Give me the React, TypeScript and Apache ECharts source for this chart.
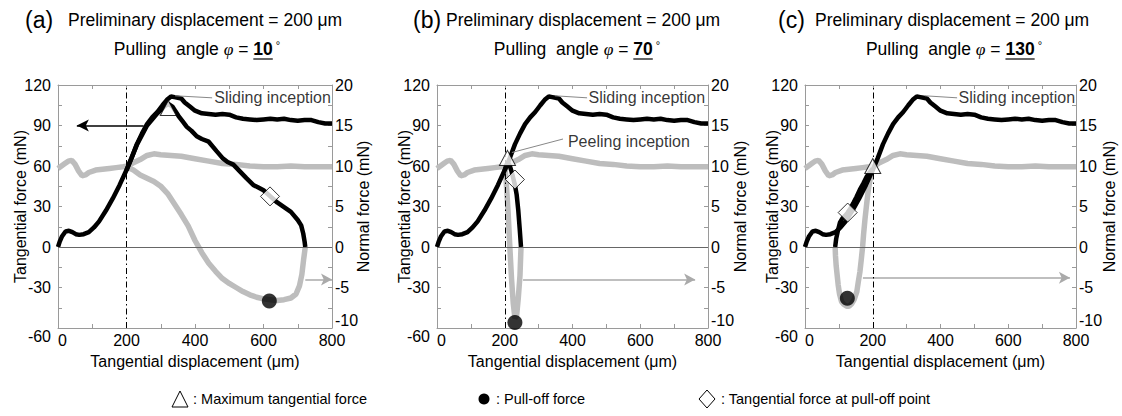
import React, { useEffect, useRef } from "react";
import * as echarts from "echarts";

// ---------- data ----------
// common sliding curve (tangential force, mN, left axis)
const slideX = [0, 5, 12, 22, 32, 42, 52, 62, 75, 90, 105, 120, 140, 160, 180, 200, 215, 230, 245, 260, 275, 290, 305, 318, 330, 340, 350, 360, 370, 385, 400, 420, 440, 460, 480, 500, 520, 540, 560, 580, 600, 620, 640, 660, 680, 700, 720, 740, 760, 780, 800];
const slideT = [0, 4, 8, 11.5, 12, 11, 9.5, 9, 9.5, 11, 14.5, 19, 27, 36, 46, 57, 66, 76, 84, 91, 96, 100, 105, 109, 111.5, 111, 110.5, 110, 107, 104, 101, 99, 98.5, 98, 98.5, 98, 96, 95, 94.5, 94, 94.5, 95, 94.5, 95, 94, 93.5, 94, 94, 92.5, 91.5, 91.5];
// common normal force (mN, right axis)
const normX = [0, 10, 20, 30, 40, 50, 60, 70, 80, 90, 110, 130, 150, 170, 190, 205, 220, 240, 260, 280, 300, 330, 360, 400, 440, 480, 520, 560, 600, 640, 680, 720, 760, 800];
const normN = [9.7, 10.0, 10.3, 10.6, 10.7, 10.2, 9.4, 8.8, 8.9, 9.2, 9.5, 9.6, 9.7, 9.8, 9.9, 10.0, 10.4, 10.8, 11.3, 11.5, 11.4, 11.3, 11.2, 10.9, 10.6, 10.3, 10.2, 10.0, 9.9, 9.9, 10.0, 9.9, 9.9, 9.9];

// (a) phi = 10
const pullAX = [200, 230, 260, 290, 310, 322, 334, 342, 352, 364, 376, 390, 405, 420, 440, 463, 480, 495, 512, 531, 550, 570, 585, 600, 620, 640, 660, 680, 700, 710, 716, 720, 722];
const pullAT = [57, 75.5, 90, 99, 104, 106, 104, 101, 97, 93, 89, 86, 82, 80, 78, 71, 66, 63, 61, 56, 51, 46, 44, 42, 37.5, 33, 29.5, 26, 20, 16, 10, 4, 0];
const pullANX = [200, 220, 240, 260, 280, 300, 320, 340, 360, 380, 400, 420, 440, 460, 480, 500, 520, 540, 560, 580, 600, 620, 640, 660, 680, 695, 705, 712, 717, 722];
const pullANN = [9.9, 9.5, 8.9, 8.5, 8.1, 7.5, 6.6, 5.3, 4.0, 2.6, 0.8, -0.7, -2.0, -3.0, -3.9, -4.5, -5.0, -5.5, -5.9, -6.2, -6.4, -6.5, -6.6, -6.5, -6.3, -5.8, -4.8, -3.4, -1.6, 0];

// (b) phi = 70
const pullBX = [200, 205, 210, 215, 220, 225, 230, 235, 240, 244, 248];
const pullBT = [57, 61, 62, 60, 56, 51, 46, 39, 27, 14, 0];
const pullBNX = [200, 204, 210, 215, 220, 225, 230, 235, 240, 245, 248];
const pullBNN = [10, 8.3, 4.2, 0, -3.9, -6.9, -8.8, -8.5, -6.3, -3.5, 0];

// (c) phi = 130
const pullCX = [200, 190, 182, 172, 162, 152, 143, 135, 126, 118, 110, 103, 97, 92, 89];
const pullCT = [58, 55, 52, 47, 42.5, 37, 32.7, 29, 25.5, 23, 21, 18, 12, 6, 0];
const pullCNX = [200, 195, 190, 187, 182, 177, 173, 170, 166, 162, 157, 153, 145, 138, 130, 123, 115, 108, 102, 98, 95, 92, 90, 89];
const pullCNN = [10, 9, 7.8, 7.1, 5.3, 3.4, 1.6, 0, -1.6, -3.1, -4.4, -5.5, -6.5, -7.0, -7.3, -7.3, -7.1, -6.75, -5.8, -4.7, -3.5, -2.3, -1.1, 0];

// markers [x, tangential-force scale]
const triangles = [[322, 103], [208, 66], [200, 60]];
const circles = [[617, -40], [230, -56], [125, -38]];
const diamonds = [[619, 37.5], [230, 50], [126, 25.5]];

const angles = ["10", "70", "130"];
const tags = ["(a)", "(b)", "(c)"];

// tick labels
const xTicks = [0, 200, 400, 600, 800];
const yLeftTicks = [-60, -30, 0, 30, 60, 90, 120];
const yRightTicks = [-10, -5, 0, 5, 10, 15, 20];

// ---------- layout ----------
const FONT = '"Liberation Sans", Arial, sans-serif';
const GRAY = "#bdbdbd";
const AXC = "#9a9a9a";
const grids = [
  { left: 58, top: 85, width: 274, height: 243 },
  { left: 437, top: 85, width: 271, height: 243 },
  { left: 805, top: 85, width: 271, height: 243 },
];
const leftNameGap = [30, 25, 25];
const rightNameGap = [23, 24, 25];
const titlePos = [
  { tagX: 25, preX: 68, center: 197 },
  { tagX: 413, preX: 446, center: 577 },
  { tagX: 778, preX: 815, center: 954 },
];

const zip = (xs: number[], ys: number[]) => xs.map((x, i) => [x, ys[i]]);

function tw(text: string, font: string) {
  const c = document.createElement("canvas").getContext("2d")!;
  c.font = font;
  return c.measureText(text).width;
}

function buildOption() {
  const pulls = [
    { t: zip(pullAX, pullAT), n: zip(pullANX, pullANN) },
    { t: zip(pullBX, pullBT), n: zip(pullBNX, pullBNN) },
    { t: zip(pullCX, pullCT), n: zip(pullCNX, pullCNN) },
  ];
  const slide = zip(slideX, slideT);
  const norm = zip(normX, normN);

  const textStyle = { color: "#000", fontSize: 16, fontFamily: FONT };
  const xAxis: any[] = [];
  const yAxis: any[] = [];
  const series: any[] = [];

  grids.forEach((_, i) => {
    xAxis.push({
      gridIndex: i, type: "value", min: 0, max: 800, interval: 100, position: "bottom",
      axisLine: { show: true, onZero: false, lineStyle: { color: AXC } },
      axisTick: { show: true, inside: true, length: 4, lineStyle: { color: AXC } },
      axisLabel: {
        ...textStyle, margin: 4, alignMinLabel: "left",
        formatter: (v: number) => (xTicks.includes(v) ? String(v) : ""),
      },
      splitLine: { show: false },
      name: "Tangential displacement (μm)", nameLocation: "middle", nameGap: 25, nameMoveOverlap: false,
      nameTextStyle: { ...textStyle },
    });
    xAxis.push({
      gridIndex: i, type: "value", min: 0, max: 800, interval: 100, position: "top",
      axisLine: { show: true, onZero: false, lineStyle: { color: AXC } },
      axisTick: { show: true, inside: true, length: 4, lineStyle: { color: AXC } },
      axisLabel: { show: false }, splitLine: { show: false },
    });
    yAxis.push({
      gridIndex: i, type: "value", min: -60, max: 120, interval: 15, position: "left",
      axisLine: { show: true, onZero: false, lineStyle: { color: AXC } },
      axisTick: { show: true, inside: true, length: 4, lineStyle: { color: AXC } },
      axisLabel: {
        ...textStyle, margin: 7, verticalAlignMinLabel: "top",
        formatter: (v: number) => (yLeftTicks.includes(v) ? String(v) : ""),
      },
      splitLine: { show: false },
      name: "Tangential force (mN)", nameLocation: "middle", nameGap: leftNameGap[i], nameMoveOverlap: false,
      nameTextStyle: { ...textStyle },
    });
    yAxis.push({
      gridIndex: i, type: "value", min: -10, max: 20, interval: 2.5, position: "right",
      axisLine: { show: true, onZero: false, lineStyle: { color: AXC } },
      axisTick: { show: true, inside: true, length: 4, lineStyle: { color: AXC } },
      axisLabel: {
        ...textStyle, margin: 3, verticalAlignMinLabel: "bottom",
        formatter: (v: number) => (yRightTicks.includes(v) ? String(v) : ""),
      },
      splitLine: { show: false },
      name: "Normal force (mN)", nameLocation: "middle", nameGap: rightNameGap[i], nameMoveOverlap: false,
      nameTextStyle: { ...textStyle },
    });

    const xb = 2 * i;
    const yl = 2 * i;
    const yr = 2 * i + 1;
    const lineBase = { type: "line", showSymbol: false, symbol: "none", silent: true, xAxisIndex: xb };

    // gray arrow
    const grayArrowStart = [722, 254, 171][i];
    const grayArrowEnd = [800, 762, 782][i];
    const grayArrowY = [-4, -4, -3.8][i];

    series.push({
      ...lineBase, yAxisIndex: yr, data: norm, z: 2,
      lineStyle: { color: GRAY, width: 5.5 },
      markLine: {
        silent: true, symbol: ["none", "none"], label: { show: false },
        data: [[
          { coord: [grayArrowStart, grayArrowY], symbol: "none", lineStyle: { color: "#aaa", width: 1.5, type: "solid" } },
          { coord: [grayArrowEnd, grayArrowY], symbol: "arrow", symbolSize: [9, 11] },
        ]],
      },
    });
    series.push({ ...lineBase, yAxisIndex: yr, data: pulls[i].n, z: 2, lineStyle: { color: GRAY, width: 5.5 } });

    const leaders: any[] = [];
    const slideLead = [[342, 112, 450, 110.5], [348, 112, 443, 110.5], [354, 112, 449, 110.5]][i];
    leaders.push([
      { coord: [slideLead[0], slideLead[1]], symbol: "none", lineStyle: { color: "#888", width: 1, type: "solid" } },
      { coord: [slideLead[2], slideLead[3]], symbol: "none" },
    ]);
    if (i === 0) {
      leaders.push([
        { coord: [250, 90], symbol: "none", lineStyle: { color: "#000", width: 1.5, type: "solid" } },
        { coord: [55, 90], symbol: "arrow", symbolSize: [9, 12] },
      ]);
    }
    if (i === 1) {
      leaders.push([
        { coord: [221, 70], symbol: "none", lineStyle: { color: "#888", width: 1, type: "solid" } },
        { coord: [372, 80], symbol: "none" },
      ]);
    }

    series.push({
      ...lineBase, yAxisIndex: yl, data: slide, z: 3,
      lineStyle: { color: "#000", width: 4.5 },
      markLine: {
        silent: true, symbol: ["none", "none"], label: { show: false },
        data: [
          { xAxis: 200, lineStyle: { color: "#000", width: 1, type: [6, 3, 1.5, 3] } },
          { yAxis: 0, lineStyle: { color: "#666", width: 1, type: "solid" } },
          ...leaders,
        ],
      },
    });
    series.push({ ...lineBase, yAxisIndex: yl, data: pulls[i].t, z: 3, lineStyle: { color: "#000", width: 4.5 } });

    // markers
    series.push({
      type: "scatter", xAxisIndex: xb, yAxisIndex: yl, silent: true, z: 6,
      data: [
        { value: triangles[i], symbol: "triangle", symbolSize: [16, 15], itemStyle: { color: "#fff", borderColor: "#000", borderWidth: 1 } },
        { value: diamonds[i], symbol: "diamond", symbolSize: [19, 19], itemStyle: { color: "#fff", borderColor: "#000", borderWidth: 1 } },
        { value: circles[i], symbol: "circle", symbolSize: 15, itemStyle: { color: "#000" } },
      ],
    });

    // annotation texts
    const texts: any[] = [{ value: [[455, 446, 452][i], 111], name: "Sliding inception" }];
    if (i === 1) texts.push({ value: [385, 78.5], name: "Peeling inception" });
    series.push({
      type: "scatter", xAxisIndex: xb, yAxisIndex: yl, silent: true, z: 7,
      symbolSize: 1, itemStyle: { color: "transparent" },
      label: { show: true, position: "right", distance: 0, formatter: (p: any) => p.name, ...textStyle },
      data: texts,
    });
  });

  // titles
  const TS = 17.5;
  const reg = `${TS}px "Liberation Sans"`;
  const ital = `italic ${TS}px "Liberation Serif"`;
  const bold = `700 ${TS}px "Liberation Sans"`;
  const graphic: any[] = [];
  titlePos.forEach((p, i) => {
    graphic.push({
      type: "text", x: p.tagX, y: 20,
      style: { text: tags[i], fontSize: 23, fontFamily: FONT, fill: "#000", verticalAlign: "middle", align: "left" },
    });
    graphic.push({
      type: "text", x: p.preX, y: 20,
      style: { text: "Preliminary displacement = 200 μm", fontSize: TS, fontFamily: FONT, fill: "#000", verticalAlign: "middle", align: "left" },
    });
    const pre = tw("Pulling  angle ", reg) + tw("φ", ital) + tw(" = ", reg);
    const wNum = tw(angles[i], bold);
    const total = pre + wNum + tw(" °", `11px "Liberation Sans"`);
    const x0 = p.center - total / 2;
    graphic.push({
      type: "text", x: x0, y: 49,
      style: {
        text: `{r|Pulling  angle }{p|φ}{r| = }{b|${angles[i]}}{d| °}`,
        verticalAlign: "middle", align: "left", fill: "#000",
        rich: {
          r: { fontSize: TS, fontFamily: FONT, fill: "#000" },
          p: { fontSize: TS, fontFamily: '"Liberation Serif", serif', fontStyle: "italic", fill: "#000" },
          b: { fontSize: TS, fontFamily: FONT, fontWeight: "bold", fill: "#000" },
          d: { fontSize: 11, fontFamily: FONT, fill: "#000", padding: [0, 0, 8, 0] },
        },
      },
    });
    graphic.push({
      type: "line", shape: { x1: x0 + pre, y1: 59, x2: x0 + pre + wNum, y2: 59 },
      style: { stroke: "#000", lineWidth: 1.2 },
    });
  });

  // legend
  const lg = { fontSize: 14.5, fontFamily: FONT, fill: "#000", verticalAlign: "middle", align: "left" };
  graphic.push({ type: "polygon", shape: { points: [[180, 391], [172, 407], [188, 407]] }, style: { fill: "#fff", stroke: "#000", lineWidth: 1 } });
  graphic.push({ type: "text", x: 193, y: 399, style: { ...lg, text: ": Maximum tangential force" } });
  graphic.push({ type: "circle", shape: { cx: 484, cy: 399, r: 5.5 }, style: { fill: "#000" } });
  graphic.push({ type: "text", x: 496, y: 399, style: { ...lg, text: ": Pull-off force" } });
  graphic.push({ type: "polygon", shape: { points: [[707, 390], [715, 399], [707, 408], [699, 399]] }, style: { fill: "#fff", stroke: "#000", lineWidth: 1 } });
  graphic.push({ type: "text", x: 721, y: 399, style: { ...lg, text: ": Tangential force at pull-off point" } });

  return {
    animation: false,
    backgroundColor: "#fff",
    grid: grids.map((g) => ({ ...g, containLabel: false })),
    xAxis, yAxis, series, graphic,
  };
}

export default function App() {
  const ref = useRef<HTMLDivElement>(null);
  useEffect(() => {
    if (!ref.current) return;
    const chart = echarts.init(ref.current, undefined, { renderer: "svg" });
    chart.setOption(buildOption() as any);
    return () => chart.dispose();
  }, []);
  return <div ref={ref} style={{ position: "fixed", left: 0, top: 0, width: 1122, height: 416, background: "#fff" }} />;
}
